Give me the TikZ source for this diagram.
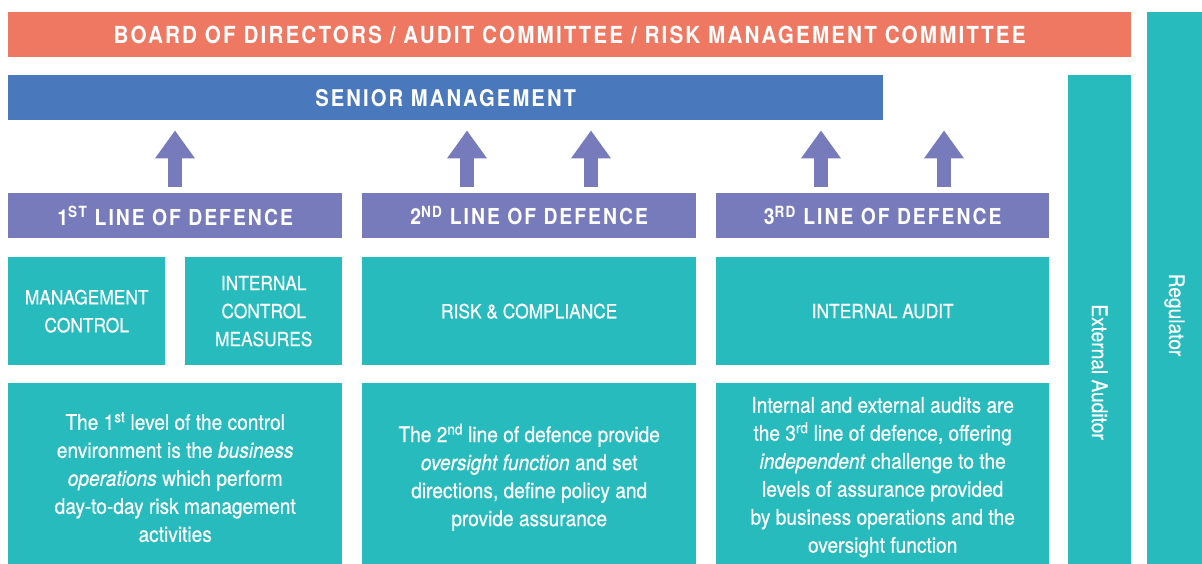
\documentclass[tikz,border=0pt]{standalone}
\usepackage{fontspec}
\setmainfont{TeX Gyre Heros}[FakeStretch=0.89,FakeBold=0.5]
\newfontfamily\hdfont{TeX Gyre Heros}[FakeStretch=0.88,LetterSpace=9]
\usetikzlibrary{arrows.meta}
\definecolor{salmon}{HTML}{EF7862}
\definecolor{smblue}{HTML}{4A78BC}
\definecolor{lodpurple}{HTML}{777BBC}
\definecolor{tealc}{HTML}{28BBBE}
\tikzset{
  blk/.style={anchor=north west, inner sep=0pt, text=white, align=center},
  hdr/.style={blk, font=\hdfont\bfseries\fontsize{22}{26}\selectfont},
  midtxt/.style={blk, fill=tealc, font=\fontsize{19.5}{28}\selectfont},
  bottxt/.style={blk, fill=tealc, font=\fontsize{21.5}{28}\selectfont},
  sidebar/.style={inner sep=0pt, fill=tealc, text=white, rotate=-90, font=\fontsize{21.5}{24}\selectfont},
  bigarrow/.style={draw=lodpurple, line width=14pt, -{Triangle[width=38pt,length=28pt]}, shorten <=6pt, shorten >=10pt}
}
\begin{document}
\begin{tikzpicture}[x=1pt,y=-1pt]
\useasboundingbox (0,0) rectangle (1202,563);
\clip (0,0) rectangle (1202,563);
% top bars
\node[hdr, fill=salmon, minimum width=1123pt, minimum height=45pt, font=\hdfont\bfseries\fontsize{23.5}{26}\selectfont] (board) at (8,12) {BOARD OF DIRECTORS / AUDIT COMMITTEE / RISK MANAGEMENT COMMITTEE};
\node[hdr, fill=smblue, minimum width=875pt, minimum height=45pt, font=\hdfont\bfseries\fontsize{23}{26}\selectfont] (sm) at (8,75) {SENIOR MANAGEMENT};
% lines of defence
\node[hdr, fill=lodpurple, minimum width=334pt, minimum height=45pt] (h1) at (8,193) {1\textsuperscript{ST} LINE OF DEFENCE};
\node[hdr, fill=lodpurple, minimum width=334pt, minimum height=45pt] (h2) at (362,193) {2\textsuperscript{ND} LINE OF DEFENCE};
\node[hdr, fill=lodpurple, minimum width=333pt, minimum height=45pt] (h3) at (716,193) {3\textsuperscript{RD} LINE OF DEFENCE};
% arrows
\coordinate (a1) at (175,0);
\coordinate (a2) at (467,0);
\coordinate (a3) at (591,0);
\coordinate (a4) at (821,0);
\coordinate (a5) at (944,0);
\draw[bigarrow] (h1.north -| a1) -- (sm.south -| a1);
\draw[bigarrow] (h2.north -| a2) -- (sm.south -| a2);
\draw[bigarrow] (h2.north -| a3) -- (sm.south -| a3);
\draw[bigarrow] (h3.north -| a4) -- (sm.south -| a4);
\draw[bigarrow] (h3.north -| a5) -- (sm.south -| a5);
% middle boxes
\node[midtxt, minimum width=157pt, minimum height=108pt] (mc) at (8,257) {MANAGEMENT\\CONTROL};
\node[midtxt, minimum width=157pt, minimum height=108pt] (icm) at (185,257) {INTERNAL\\CONTROL\\MEASURES};
\node[midtxt, minimum width=334pt, minimum height=108pt] (rc) at (362,257) {RISK \& COMPLIANCE};
\node[midtxt, minimum width=333pt, minimum height=108pt] (ia) at (716,257) {INTERNAL AUDIT};
% bottom boxes
\node[bottxt, minimum width=334pt, minimum height=188pt] (d1) at (8,383) {The 1\textsuperscript{st} level of the control\\environment is the \textit{business}\\\textit{operations} which perform\\day-to-day risk management\\activities};
\node[bottxt, minimum width=334pt, minimum height=188pt] (d2) at (362,383) {The 2\textsuperscript{nd} line of defence provide\\\textit{oversight function} and set\\directions, define policy and\\provide assurance};
\node[bottxt, minimum width=333pt, minimum height=188pt] (d3) at (716,383) {Internal and external audits are\\the 3\textsuperscript{rd} line of defence, offering\\\textit{independent} challenge to the\\levels of assurance provided\\by business operations and the\\oversight function};
% side bars
\node[sidebar, minimum width=594pt, minimum height=63pt] (ext) at (1099.5,372) {External Auditor};
\node[sidebar, minimum width=606pt, minimum height=55pt] (reg) at (1174.5,315) {Regulator};
\end{tikzpicture}
\end{document}
